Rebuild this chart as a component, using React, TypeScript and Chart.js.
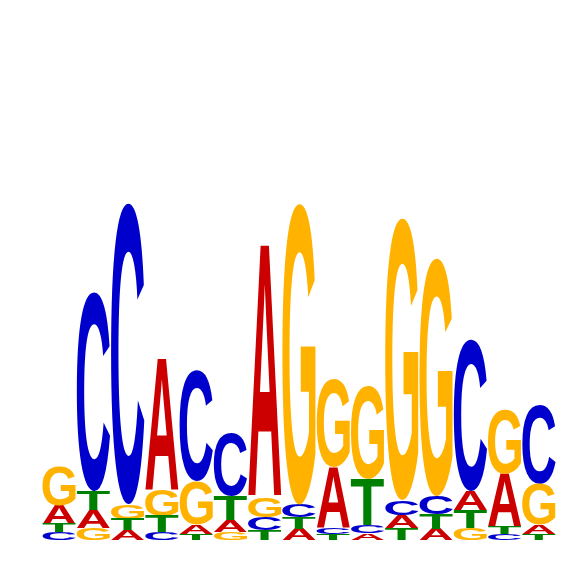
import { useEffect, useRef } from 'react';
import Chart from 'chart.js/auto';

// Sequence logo, information content (bits) per letter at each position
const positions = ['1', '2', '3', '4', '5', '6', '7', '8', '9', '10', '11', '12', '13', '14', '15'];
const bitsA = [0.071, 0.068, 0.038, 0.496, 0.034, 0.045, 0.947, 0.041, 0.226, 0.026, 0.049, 0.041, 0.071, 0.199, 0.034];
const bitsC = [0.029, 0.748, 1.132, 0.030, 0.417, 0.237, 0.049, 0.049, 0.024, 0.030, 0.056, 0.068, 0.568, 0.023, 0.297];
const bitsG = [0.150, 0.045, 0.056, 0.098, 0.165, 0.030, 0.075, 1.132, 0.331, 0.353, 1.060, 0.895, 0.045, 0.244, 0.154];
const bitsT = [0.031, 0.071, 0.041, 0.060, 0.023, 0.090, 0.038, 0.043, 0.022, 0.173, 0.045, 0.056, 0.068, 0.028, 0.023];

const letters = ['A', 'C', 'G', 'T'];
const letterColors: { [k: string]: string } = {
  A: '#CC0000',
  C: '#0000CC',
  G: '#FFB300',
  T: '#008000',
};

// stack letters in each column, smallest at the bottom
const buildRanges = () => {
  const all = [bitsA, bitsC, bitsG, bitsT];
  const ranges: number[][][] = letters.map(() => []);
  positions.forEach((_, i) => {
    const order = letters.map((l, k) => ({ k, v: all[k][i] })).sort((a, b) => a.v - b.v);
    let base = 0;
    order.forEach(({ k, v }) => {
      ranges[k][i] = [base, base + v];
      base += v;
    });
  });
  return ranges;
};

const glyphPlugin = {
  id: 'glyphs',
  afterDatasetsDraw(chart: any) {
    const ctx = chart.ctx as CanvasRenderingContext2D;
    ctx.save();
    ctx.font = "bold 200px 'Liberation Sans', Arial, sans-serif";
    ctx.textAlign = 'left';
    ctx.textBaseline = 'alphabetic';
    chart.data.datasets.forEach((ds: any, di: number) => {
      const letter = ds.label as string;
      const m = ctx.measureText(letter);
      const gw = m.actualBoundingBoxLeft + m.actualBoundingBoxRight;
      const gh = m.actualBoundingBoxAscent + m.actualBoundingBoxDescent;
      const meta = chart.getDatasetMeta(di);
      meta.data.forEach((bar: any) => {
        const p = bar.getProps(['x', 'y', 'base', 'width'], true);
        const top = Math.min(p.y, p.base);
        const h = Math.abs(p.base - p.y);
        if (h < 0.5) return;
        const left = p.x - p.width / 2;
        ctx.save();
        ctx.translate(left, top);
        ctx.scale(p.width / gw, h / gh);
        ctx.fillStyle = letterColors[letter];
        ctx.fillText(letter, m.actualBoundingBoxLeft, m.actualBoundingBoxAscent);
        ctx.restore();
      });
    });
    ctx.restore();
  },
};

const App = () => {
  const canvasRef = useRef<HTMLCanvasElement | null>(null);
  const chartRef = useRef<Chart | null>(null);

  useEffect(() => {
    if (!canvasRef.current) return;
    const ranges = buildRanges();
    chartRef.current = new Chart(canvasRef.current, {
      type: 'bar',
      data: {
        labels: positions,
        datasets: letters.map((l, k) => ({
          label: l,
          data: ranges[k] as any,
          backgroundColor: 'rgba(0,0,0,0)',
          borderWidth: 0,
          grouped: false,
          barPercentage: 0.97,
          categoryPercentage: 1,
        })),
      },
      options: {
        animation: false,
        responsive: true,
        maintainAspectRatio: false,
        layout: { padding: { left: 42, right: 10, top: 8, bottom: 26 } },
        scales: {
          x: { display: false },
          y: { display: false, min: 0, max: 2 },
        },
        plugins: {
          legend: { display: false },
          tooltip: { enabled: false },
        },
      },
      plugins: [glyphPlugin],
    });
    return () => {
      chartRef.current?.destroy();
    };
  }, []);

  return (
    <div style={{ position: 'absolute', left: 0, top: 0, width: 566, height: 566, background: '#fff' }}>
      <canvas ref={canvasRef} />
    </div>
  );
};

export default App;
